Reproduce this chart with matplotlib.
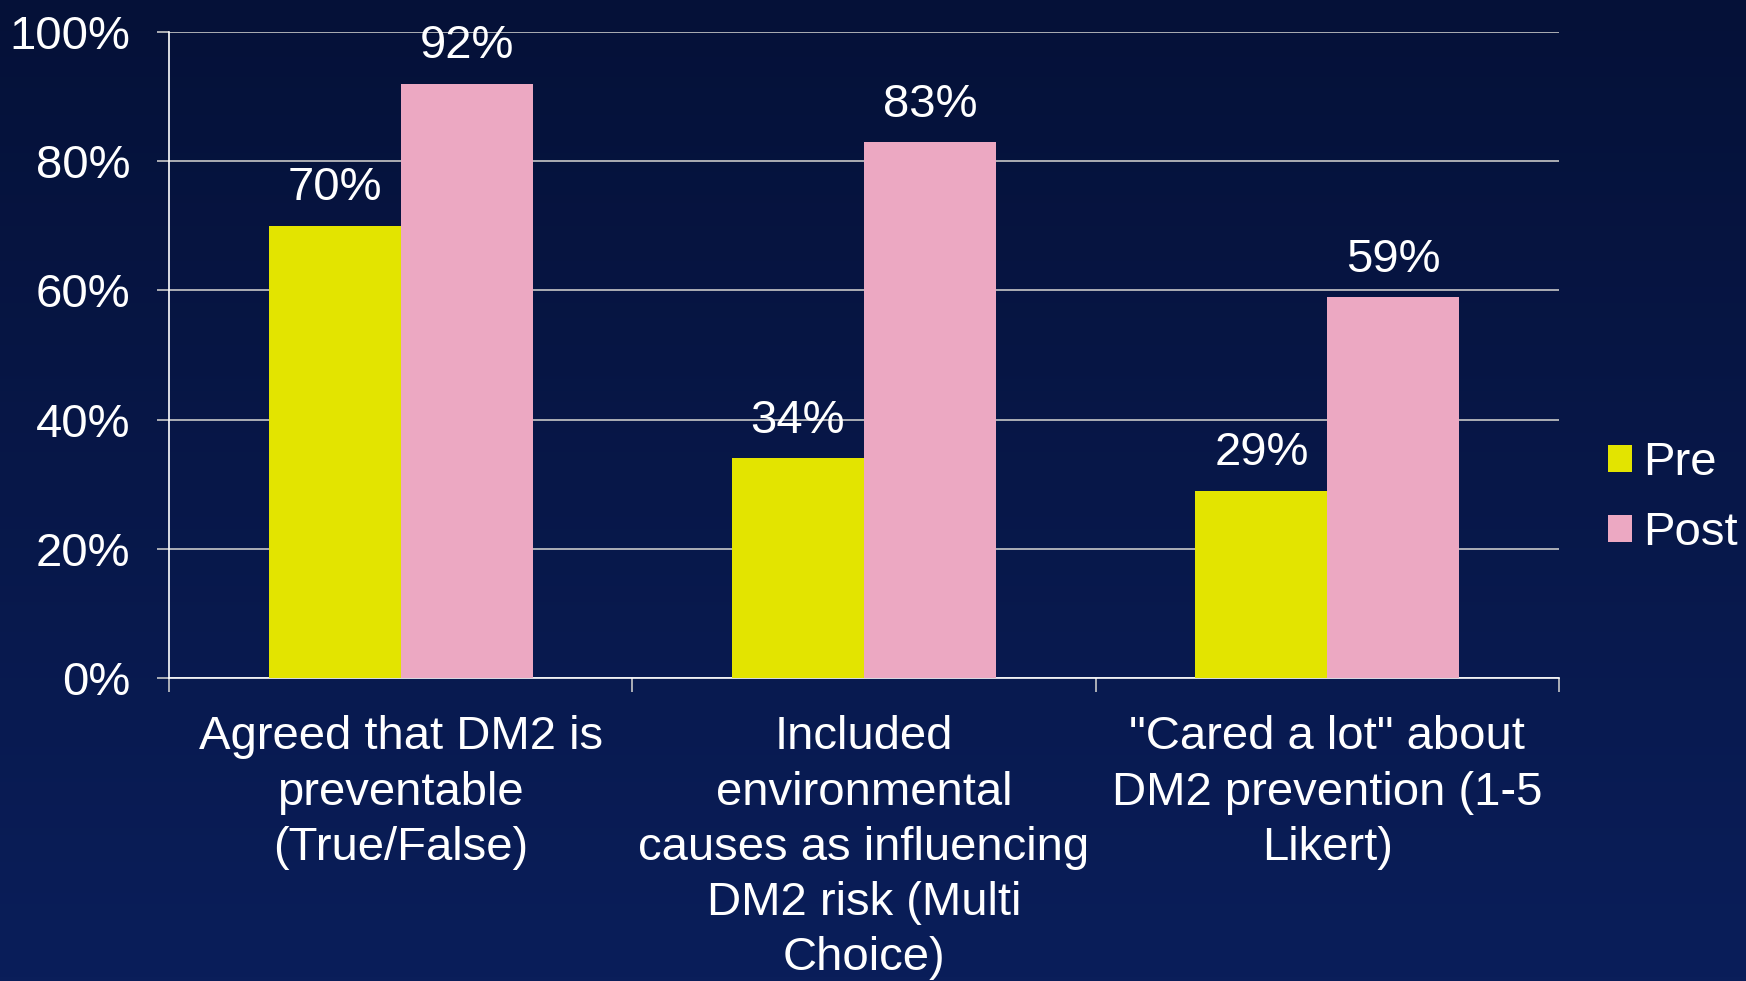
import numpy as np
import matplotlib.pyplot as plt
from matplotlib.ticker import PercentFormatter, FixedLocator, NullFormatter

categories = ['Agreed that DM2 is\npreventable\n(True/False)',
              'Included\nenvironmental\ncauses as influencing\nDM2 risk (Multi\nChoice)',
              '"Cared a lot" about\nDM2 prevention (1-5\nLikert)']
pre = [70, 34, 29]
post = [92, 83, 59]
series_names = ['Pre', 'Post']

plt.rcParams['font.family'] = ['Liberation Sans', 'DejaVu Sans']
fs = 34
white = 'white'

fig = plt.figure(figsize=(17.46, 9.81), dpi=100)

# dark blue gradient backdrop
bg = fig.add_axes([0, 0, 1, 1], zorder=-10)
grad = np.linspace(0, 1, 256).reshape(-1, 1)
top = np.array([5, 17, 56]) / 255
bot = np.array([10, 30, 90]) / 255
img = top + (bot - top) * grad[:, :, None] * np.ones((1, 2, 1))
bg.imshow(img, aspect='auto', extent=[0, 1, 0, 1], origin='upper')
bg.axis('off')

ax = fig.add_axes([0.0968, 0.3089, 0.7961, 0.6585])
ax.patch.set_alpha(0)

x = np.arange(len(categories))
w = 0.285
b1 = ax.bar(x - w / 2, pre, w, color='#E3E400', label=series_names[0], zorder=3)
b2 = ax.bar(x + w / 2, post, w, color='#ECA8C2', label=series_names[1], zorder=3)
for bars in (b1, b2):
    ax.bar_label(bars, fmt='%d%%', padding=11, color=white, fontsize=fs)

ax.set_xlim(-0.5, 2.5)
ax.set_ylim(0, 100)
ax.set_yticks(range(0, 101, 20))
ax.yaxis.set_major_formatter(PercentFormatter(decimals=0))
ax.grid(axis='y', color='#C8C8C8', linewidth=1.2, zorder=0)

# category labels at centres, tick marks at group boundaries
ax.xaxis.set_major_locator(FixedLocator([-0.5, 0.5, 1.5, 2.5]))
ax.xaxis.set_major_formatter(NullFormatter())
ax.xaxis.set_minor_locator(FixedLocator(x))
ax.set_xticklabels(categories, minor=True)
ax.tick_params(axis='x', which='major', direction='out', length=10, width=1.2,
               color='#C8C8C8')
ax.tick_params(axis='x', which='minor', length=0, pad=27, labelsize=fs,
               labelcolor=white)
ax.tick_params(axis='y', direction='out', length=9, width=1.2, color='#C8C8C8',
               labelsize=fs, labelcolor=white, pad=19)
for lbl in ax.get_xticklabels(minor=True):
    lbl.set_linespacing(1.33)
    lbl.set_ha('center')

for s in ('top', 'right'):
    ax.spines[s].set_visible(False)
ax.spines['left'].set_color(white)
ax.spines['bottom'].set_color(white)
ax.spines['left'].set_linewidth(1.2)
ax.spines['bottom'].set_linewidth(1.2)

fig.legend(handles=[b1, b2], labels=series_names, loc='center left',
           bbox_to_anchor=(0.921, 0.492), frameon=False, fontsize=fs,
           labelcolor=white, handlelength=0.5, handleheight=0.5,
           handletextpad=0.25, labelspacing=0.55, borderpad=0, borderaxespad=0)

fig.savefig('out.png', dpi=100)
